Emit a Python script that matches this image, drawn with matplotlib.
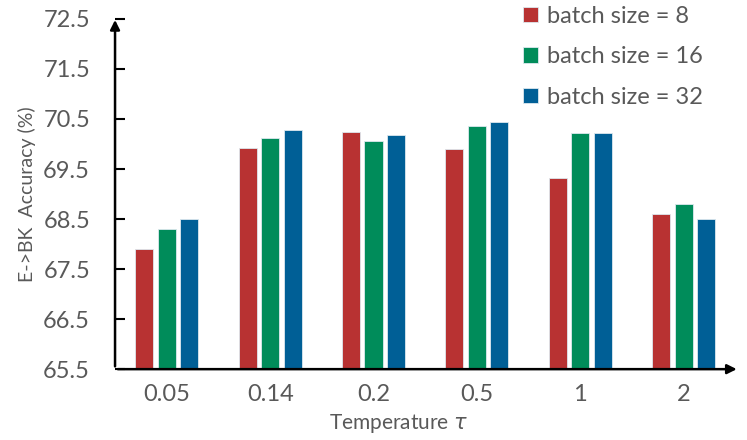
import matplotlib.pyplot as plt
import numpy as np

# данные с картинки
temperatures = ["0.05", "0.14", "0.2", "0.5", "1", "2"]
bs8 = [67.9, 69.93, 70.23, 69.9, 69.33, 68.6]
bs16 = [68.3, 70.13, 70.07, 70.35, 70.21, 68.8]
bs32 = [68.5, 70.27, 70.17, 70.43, 70.21, 68.5]
series_labels = ["batch size = 8", "batch size = 16", "batch size = 32"]
colors = ["#B83232", "#008C5A", "#005F96"]
yticks = [65.5, 66.5, 67.5, 68.5, 69.5, 70.5, 71.5, 72.5]

plt.rcParams['font.family'] = ['Lato', 'DejaVu Sans']
grey = "#595959"

fig = plt.figure(figsize=(7.47, 4.40), dpi=100)
ax = fig.add_axes([0.154, 0.161, 0.836, 0.796])

x = np.arange(len(temperatures))
w = 0.175
step = 0.218
for i, (vals, lab, c) in enumerate(zip([bs8, bs16, bs32], series_labels, colors)):
    ax.bar(x + (i - 1) * step, np.array(vals) - 65.5, width=w, bottom=65.5,
           color=c, edgecolor="#dde8ee", linewidth=0.6, label=lab)

ax.set_ylim(65.5, 72.5)
ax.set_xlim(-0.5, 5.54)
ax.set_yticks(yticks)
ax.set_yticklabels([f"{t:.1f}" for t in yticks], fontsize=17)
ax.set_xticks(x)
ax.set_xticklabels(temperatures, fontsize=17)
ax.tick_params(axis='y', direction='in', length=7, width=1.5, color='black',
               labelcolor=grey, pad=18)
ax.tick_params(axis='x', length=0, labelcolor=grey, pad=11)

for s in ax.spines.values():
    s.set_visible(False)

# оси со стрелками
ax.annotate("", xy=(0, 1.005), xytext=(0, 0), xycoords='axes fraction',
            arrowprops=dict(arrowstyle="-|>", color='black', lw=1.8, mutation_scale=14))
ax.annotate("", xy=(1.0, 0), xytext=(0, 0), xycoords='axes fraction',
            arrowprops=dict(arrowstyle="-|>", color='black', lw=1.8, mutation_scale=14))

ax.set_ylabel("E->BK  Accuracy (%)", color=grey, fontsize=14, labelpad=5)
ax.set_xlabel("Temperature $\\tau$", color=grey, fontsize=15)
ax.xaxis.set_label_coords(0.454, -0.122)

ax.legend(loc='upper left', bbox_to_anchor=(0.672, 1.035), bbox_transform=fig.transFigure,
          frameon=False, fontsize=17, labelcolor=grey, handlelength=0.62, handleheight=0.62,
          handletextpad=0.38, labelspacing=0.83)

fig.savefig("out.png", dpi=100)
